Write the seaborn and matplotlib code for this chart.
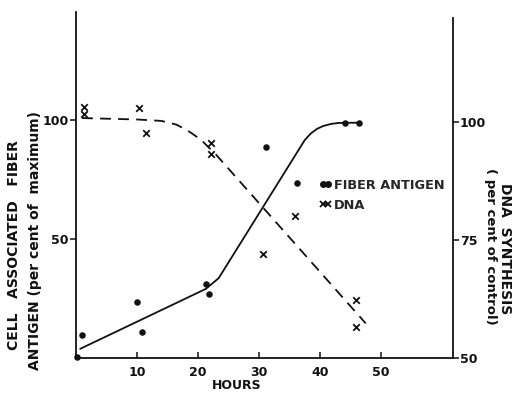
import numpy as np
import pandas as pd
import matplotlib.pyplot as plt
import seaborn as sns
from matplotlib.lines import Line2D

# Fiber antigen measurements (left axis, per cent of maximum)
fiber_hours = [0.2, 1.0, 10.0, 10.9, 21.4, 21.8, 31.1, 36.2, 44.1, 46.4]
fiber_value = [0.5, 9.7, 23.3, 11.0, 31.0, 27.0, 88.5, 73.3, 98.7, 98.7]

# fitted solid curve for fiber antigen (vertices)
fiber_fit_hours = [0.7, 21.3, 23.4, 37.5, 38.5, 39.5, 40.5, 41.8, 43.0, 44.1, 46.4]
fiber_fit_value = [3.8, 29.0, 33.5, 91.5, 94.3, 96.2, 97.4, 98.3, 98.7, 98.8, 98.8]

# DNA synthesis measurements (right axis, per cent of control)
dna_hours = [1.4, 1.4, 10.3, 11.5, 22.1, 22.1, 30.7, 35.9, 45.9, 45.9]
dna_value = [103.1, 101.7, 102.9, 97.7, 95.6, 93.1, 72.0, 80.1, 62.3, 56.5]

# fitted dashed curve for DNA synthesis
dna_fit_hours = [1.0, 10.0, 14.0, 16.5, 18.5, 20.5, 23.0, 47.5]
dna_fit_value = [100.8, 100.5, 100.2, 99.4, 98.0, 96.2, 93.0, 57.3]

fiber = pd.DataFrame({"hours": fiber_hours, "value": fiber_value})
fiber_fit = pd.DataFrame({"hours": fiber_fit_hours, "value": fiber_fit_value})
dna = pd.DataFrame({"hours": dna_hours, "value": dna_value})
dna_fit = pd.DataFrame({"hours": dna_fit_hours, "value": dna_fit_value})

sns.set_style("ticks")
plt.rcParams["font.family"] = ["DejaVu Sans"]
ink = "#111111"

fig = plt.figure(figsize=(5.13, 3.95), dpi=100)
ax = fig.add_axes([0.148, 0.094, 0.735, 0.876])
ax2 = ax.twinx()

# fiber antigen on the left axis
sns.lineplot(data=fiber_fit, x="hours", y="value", ax=ax, color=ink,
             linewidth=1.3, sort=False, estimator=None)
sns.scatterplot(data=fiber, x="hours", y="value", ax=ax, color=ink,
                s=22, edgecolor=ink, linewidth=0, zorder=5, clip_on=False)

# DNA synthesis on the right axis
sns.lineplot(data=dna_fit, x="hours", y="value", ax=ax2, color=ink,
             linewidth=1.3, sort=False, estimator=None, dashes=False)
ax2.lines[-1].set_dashes([6, 4])
sns.scatterplot(data=dna, x="hours", y="value", ax=ax2, color=ink,
                marker="x", s=22, linewidth=1.3, zorder=5)

ax.set_xlim(0, 61.8)
ax.set_ylim(0, 145.4)
ax2.set_ylim(50, 123.3)

ax.set_xticks([10, 20, 30, 40, 50])
ax.set_yticks([50, 100])
ax2.set_yticks([50, 75, 100])

ax.tick_params(axis="x", direction="in", length=4, width=1.1, labelsize=9, colors=ink, pad=6)
ax.tick_params(axis="y", direction="out", length=4, width=1.1, labelsize=9, colors=ink, pad=1)
ax2.tick_params(axis="y", direction="out", length=4, width=1.1, labelsize=9, colors=ink, pad=1)
for lab in ax.get_xticklabels() + ax.get_yticklabels() + ax2.get_yticklabels():
    lab.set_fontweight("bold")

for side in ["top", "right"]:
    ax.spines[side].set_visible(False)
for side in ["top", "left", "bottom"]:
    ax2.spines[side].set_visible(False)
for sp in [ax.spines["left"], ax.spines["bottom"], ax2.spines["right"]]:
    sp.set_linewidth(1.3)
    sp.set_color(ink)
ax2.spines["right"].set_bounds(50, 122)

ax.set_xlabel("")
ax.set_ylabel("")
ax2.set_ylabel("")

fig.text(0.462, 0.025, "HOURS", fontsize=9, fontweight="bold", ha="center", va="center", color=ink)
fig.text(0.027, 0.38, "CELL   ASSOCIATED   FIBER", rotation=90, fontsize=10,
         fontweight="bold", ha="center", va="center", color=ink)
fig.text(0.068, 0.39, "ANTIGEN (per cent of  maximum)", rotation=90, fontsize=10,
         fontweight="bold", ha="center", va="center", color=ink)
fig.text(0.985, 0.37, "DNA  SYNTHESIS", rotation=270, fontsize=10,
         fontweight="bold", ha="center", va="center", color=ink)
fig.text(0.957, 0.375, "( per cent of control)", rotation=270, fontsize=9.5,
         fontweight="bold", ha="center", va="center", color=ink)

handles = [
    Line2D([], [], color=ink, marker="o", markersize=4, linewidth=1.3),
    Line2D([], [], color=ink, marker="x", markersize=4, linewidth=1.3, markeredgewidth=1.3),
]
leg = fig.legend(handles, ["FIBER ANTIGEN", "DNA"], loc="upper left",
                 bbox_to_anchor=(0.609, 0.564), frameon=False, numpoints=2,
                 handlelength=1.0, handletextpad=0.15, labelspacing=0.55,
                 borderpad=0, prop={"weight": "bold", "size": 9.3})

fig.savefig("out.png", dpi=100)
